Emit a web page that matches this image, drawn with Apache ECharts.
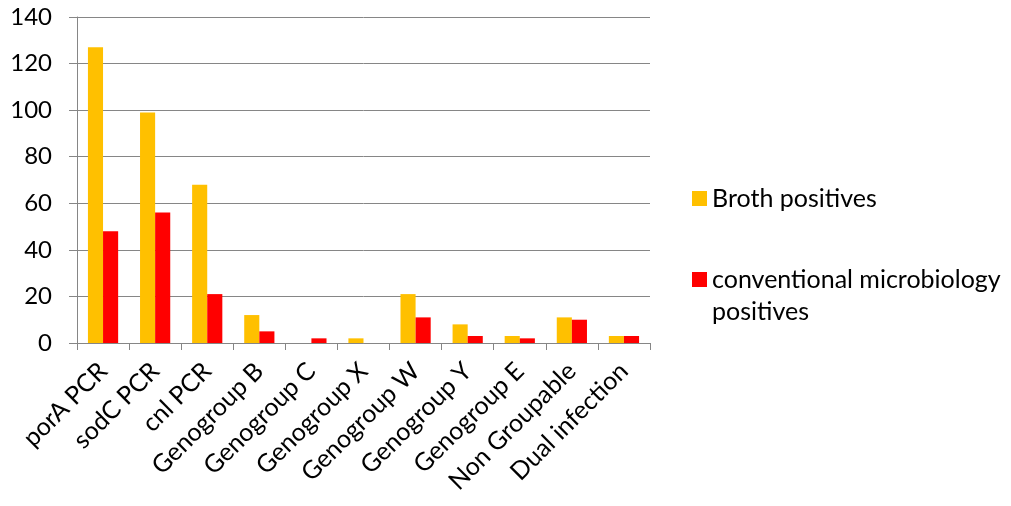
<!DOCTYPE html>
<html>
<head>
<meta charset="utf-8">
<script src="https://cdn.jsdelivr.net/npm/echarts@6/dist/echarts.min.js"></script>
<style>
  html, body { margin: 0; padding: 0; background: #fff; }
  #chart { width: 1011px; height: 506px; }
</style>
</head>
<body>
<div id="chart"></div>
<script>
// categories and values
const categories = ['porA PCR', 'sodC PCR', 'cnl PCR', 'Genogroup B', 'Genogroup C', 'Genogroup X',
  'Genogroup W', 'Genogroup Y', 'Genogroup E', 'Non Groupable', 'Dual infection'];
const brothPositives = [127, 99, 68, 12, 0, 2, 21, 8, 3, 11, 3];
const conventionalPositives = [48, 56, 21, 5, 2, 0, 11, 3, 2, 10, 3];
const seriesNames = ['Broth positives', 'conventional microbiology positives'];

const font = 'Lato, "Open Sans", sans-serif';
const axisGrey = '#868686';

const chart = echarts.init(document.getElementById('chart'));

const option = {
  animation: false,
  textStyle: { fontFamily: font },
  grid: { left: 77, right: 361, top: 17, bottom: 163 },
  legend: [
    {
      data: [seriesNames[0]],
      orient: 'vertical',
      left: 687,
      top: 181,
      icon: 'rect',
      itemWidth: 15,
      itemHeight: 15,
      textStyle: { fontSize: 25, color: '#000', fontFamily: font }
    },
    {
      data: [seriesNames[1]],
      orient: 'vertical',
      left: 687,
      top: 230,
      icon: 'rect',
      itemWidth: 15,
      itemHeight: 15,
      // empty first line keeps the swatch level with the first text line
      formatter: () => '{s| }\n{a|conventional microbiology}\n{a|positives}',
      textStyle: {
        fontSize: 25,
        color: '#000',
        fontFamily: font,
        rich: {
          s: { fontSize: 25, lineHeight: 32 },
          a: { fontSize: 25, lineHeight: 32, color: '#000', fontFamily: font }
        }
      }
    }
  ],
  xAxis: {
    type: 'category',
    data: categories,
    axisLine: { lineStyle: { color: axisGrey } },
    axisTick: { show: true, length: 7, lineStyle: { color: axisGrey } },
    axisLabel: { rotate: 45, fontSize: 25, color: '#000', margin: 24, interval: 0 }
  },
  yAxis: {
    type: 'value',
    min: 0,
    max: 140,
    interval: 20,
    axisLine: { show: true, lineStyle: { color: axisGrey } },
    axisTick: { show: true, length: 8, lineStyle: { color: axisGrey } },
    axisLabel: { fontSize: 24, color: '#000', margin: 25 },
    splitLine: { lineStyle: { color: axisGrey } }
  },
  series: [
    {
      name: seriesNames[0],
      type: 'bar',
      data: brothPositives,
      itemStyle: { color: '#FFC000' },
      barGap: '0%',
      barCategoryGap: '42%'
    },
    {
      name: seriesNames[1],
      type: 'bar',
      data: conventionalPositives,
      itemStyle: { color: '#FF0000' },
      barGap: '0%',
      barCategoryGap: '42%'
    }
  ]
};

chart.setOption(option);
</script>
</body>
</html>
